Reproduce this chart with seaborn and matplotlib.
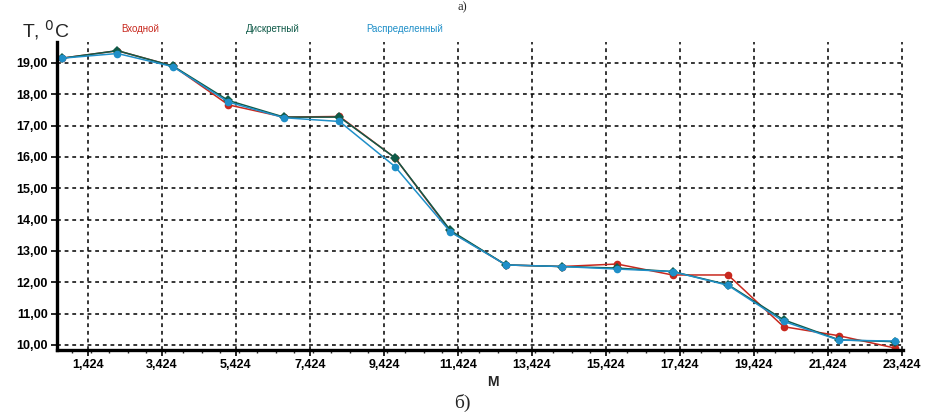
import pandas as pd
import matplotlib.pyplot as plt
import matplotlib.ticker as mticker
import seaborn as sns

# Координаты точек (м) и температуры трёх серий
x_m = [0.724, 2.224, 3.724, 5.224, 6.724, 8.224, 9.724, 11.224,
       12.724, 14.224, 15.724, 17.224, 18.724, 20.224, 21.724, 23.224]
t_vhod = [19.15, 19.39, 18.90, 17.66, 17.27, 17.29, 15.97, 13.62,
          12.55, 12.50, 12.58, 12.23, 12.23, 10.58, 10.29, 9.90]
t_diskr = [19.15, 19.39, 18.90, 17.80, 17.27, 17.27, 15.97, 13.65,
           12.55, 12.50, 12.45, 12.34, 11.92, 10.80, 10.16, 10.10]
t_raspr = [19.15, 19.30, 18.88, 17.75, 17.25, 17.13, 15.69, 13.60,
           12.55, 12.50, 12.42, 12.34, 11.90, 10.75, 10.15, 10.12]

series_names = ['Входной', 'Дискретный', 'Распределенный']
series_colors = ['#c8281e', '#0f5a48', '#1f8fc8']
x_ticks = [1.424 + 2 * i for i in range(12)]
y_ticks = list(range(10, 20))

df = pd.DataFrame({'x': x_m, series_names[0]: t_vhod,
                   series_names[1]: t_diskr, series_names[2]: t_raspr})

sns.set_style('white')
plt.rcParams['font.family'] = ['Liberation Sans', 'DejaVu Sans']

fig = plt.figure(figsize=(9.27, 4.15), dpi=100)
ax = fig.add_axes([0.0615, 0.157, 0.9125, 0.742])

markers = ['o', 'D', 'o']
for name, col, mk in zip(series_names, series_colors, markers):
    sns.lineplot(data=df, x='x', y=name, ax=ax, color=col, marker=mk,
                 markersize=5.5, markeredgewidth=0, linewidth=1.1)

ax.set_xlim(0.59, 23.45)
ax.set_ylim(9.84, 19.67)
ax.set_xticks(x_ticks)
ax.set_yticks(y_ticks)
ax.xaxis.set_minor_locator(mticker.MultipleLocator(0.5))
ax.xaxis.set_major_formatter(mticker.FuncFormatter(lambda v, p: f'{v:.3f}'.replace('.', ',')))
ax.yaxis.set_major_formatter(mticker.FuncFormatter(lambda v, p: f'{v:.2f}'.replace('.', ',')))
ax.set_xlabel('')
ax.set_ylabel('')

ax.grid(True, which='major', color='black', linestyle=(0, (2.5, 2.5)), linewidth=1.1)
for s in ['top', 'right']:
    ax.spines[s].set_visible(False)
for s in ['left', 'bottom']:
    ax.spines[s].set_linewidth(2.4)
    ax.spines[s].set_color('black')

ax.tick_params(axis='both', which='major', direction='out', length=4, width=1.2,
               labelsize=9, colors='black', left=True, bottom=True, pad=2.5)
ax.tick_params(axis='x', which='minor', direction='out', length=2.5, width=1, bottom=True)
for lbl in ax.get_xticklabels() + ax.get_yticklabels():
    lbl.set_fontweight('bold')

# Подписи
fig.text(22 / 927, 1 - 30 / 415, 'T, $^{0}$C', fontsize=14, va='center', ha='left')
for name, col, xp in zip(series_names, series_colors, [140, 273, 405]):
    fig.text(xp / 927, 1 - 29 / 415, name, fontsize=7, color=col, va='center', ha='center')
fig.text(493 / 927, 1 - 382 / 415, 'М', fontsize=10, fontweight='bold', va='center', ha='center')
fig.text(462 / 927, 1 - 403 / 415, 'б)', fontsize=14, family=['Liberation Serif', 'DejaVu Serif'],
         va='center', ha='center')
fig.text(462 / 927, 0.998, 'а)', fontsize=9, family=['Liberation Serif', 'DejaVu Serif'],
         va='top', ha='center')

fig.savefig('out.png', dpi=100)
